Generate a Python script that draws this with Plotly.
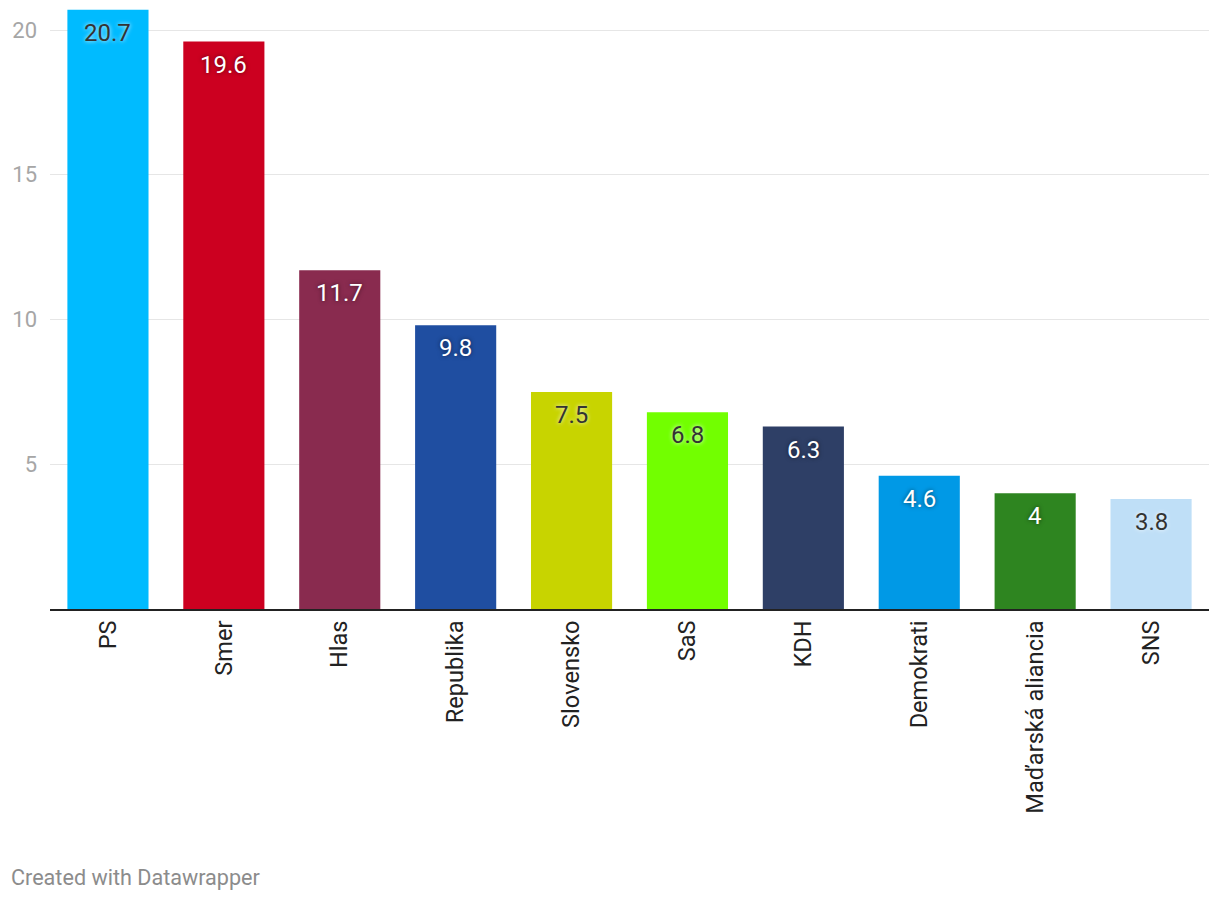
import plotly.graph_objects as go

parties = ["PS", "Smer", "Hlas", "Republika", "Slovensko", "SaS", "KDH",
           "Demokrati", "Maďarská aliancia", "SNS"]
values = [20.7, 19.6, 11.7, 9.8, 7.5, 6.8, 6.3, 4.6, 4, 3.8]
colors = ["#00bbff", "#cc0020", "#892b4f", "#1f4ea1", "#c8d400", "#72ff00",
          "#2e3f66", "#0099e6", "#2e8520", "#bfdff7"]
dark_label = [True, False, False, False, True, True, False, False, False, True]
y_ticks = [5, 10, 15, 20]

FONT = "Roboto, sans-serif"

fig = go.Figure()
fig.add_trace(go.Bar(
    x=parties, y=values, marker=dict(color=colors, line=dict(width=0)),
    hoverinfo="skip", showlegend=False,
))

annotations = []
for p, v, d in zip(parties, values, dark_label):
    annotations.append(dict(
        x=p, y=v, xref="x", yref="y", text=f"{v:g}", showarrow=False,
        yanchor="middle", yshift=-23,
        font=dict(family=FONT, size=24, color="#333333" if d else "#ffffff",
                  shadow=("0px 0px 4px rgba(255,255,255,0.9)" if d
                          else "0px 0px 4px rgba(0,0,0,0.55)")),
    ))

PLOT_H = 601
annotations.append(dict(
    text="Created with Datawrapper", xref="paper", yref="paper",
    x=-(49.5 - 8) / 1160, y=-(877 - 609) / PLOT_H, xanchor="left", yanchor="middle",
    showarrow=False, font=dict(family=FONT, size=21.6, color="#8c8c8c"),
))

fig.update_layout(
    width=1212, height=892,
    margin=dict(l=41.5, r=10.5, t=0, b=291),
    paper_bgcolor="white", plot_bgcolor="white",
    bargap=0.3,
    annotations=annotations,
    xaxis=dict(
        tickangle=-90, tickfont=dict(family=FONT, size=23.6, color="#222222"),
        showline=True, linecolor="#222222", linewidth=2,
        ticks="", showgrid=False, ticklabelstandoff=0,
    ),
    yaxis=dict(
        range=[0, 20.76], tickvals=y_ticks, showgrid=True, gridcolor="#e6e6e6",
        gridwidth=1, zeroline=False, showline=False, ticks="",
        tickfont=dict(family=FONT, size=22, color="#a6a6a6"),
        ticklabelstandoff=12,
    ),
)

fig.write_html("out.html")
